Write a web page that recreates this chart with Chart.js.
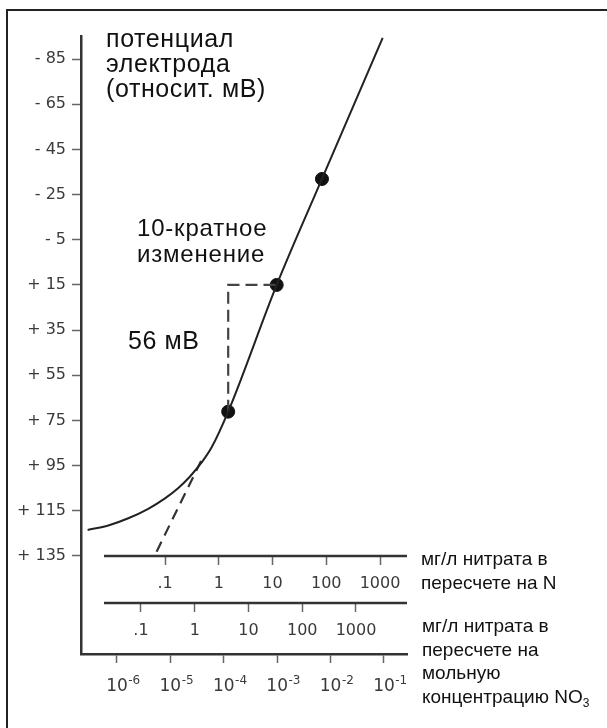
<!DOCTYPE html>
<html lang="ru">
<head>
<meta charset="utf-8">
<title>Потенциал нитратного электрода</title>
<script src="https://cdn.jsdelivr.net/npm/chart.js@4"></script>
<style>
    html, body { margin: 0; padding: 0; background: #fff; }
    #wrap { position: relative; width: 607px; height: 728px; overflow: hidden; }
    #frame { position: absolute; left: 6px; top: 9px; right: -4px; bottom: -4px;
             border-left: 2px solid #222; border-top: 2px solid #222; pointer-events: none; }
    .note { position: absolute; font-family: 'Liberation Sans', Arial, sans-serif; color: #111; white-space: nowrap; }
    .big { font-size: 25px; line-height: 25px; letter-spacing: 0.6px; }
    .mid { font-size: 24px; line-height: 26px; letter-spacing: 0.8px; }
    .small { font-size: 19px; line-height: 23.6px; }
    sub { font-size: 12px; vertical-align: -4px; line-height: 0; }
</style>
</head>
<body>
<div id="wrap">
    <canvas id="chart" width="607" height="728"></canvas>
    <div id="frame"></div>
    <div class="note big" style="left:106px; top:26px;">потенциал<br>электрода<br>(относит. мВ)</div>
    <div class="note mid" style="left:137px; top:215px;">10-кратное<br>изменение</div>
    <div class="note big" style="left:128px; top:328px;">56 мВ</div>
    <div class="note small" style="left:421px; top:547px;">мг/л нитрата в<br>пересчете на N</div>
    <div class="note small" style="left:422px; top:614px;">мг/л нитрата в<br>пересчете на<br>мольную<br>концентрацию NO<sub>3</sub></div>
</div>
<script>
// y axis: electrode potential, mV (top is negative)
const yTicks = [-85, -65, -45, -25, -5, 15, 35, 55, 75, 95, 115, 135];

// bottom axis: molar concentration of NO3, labelled 10^exp
const molarTicks = [1e-6, 1e-5, 1e-4, 1e-3, 1e-2, 1e-1];
const molarExponents = ['-6', '-5', '-4', '-3', '-2', '-1'];

// mg/l nitrate as N
const nTicks = [0.1, 1, 10, 100, 1000];
const nLabels = ['.1', '1', '10', '100', '1000'];

// mg/l nitrate as NO3
const no3Ticks = [0.1, 1, 10, 100, 1000];
const no3Labels = ['.1', '1', '10', '100', '1000'];

// electrode response curve
const curveX = [2.82e-7, 6.87e-7, 1.63e-6, 3.85e-6, 7.93e-6, 1.41e-5, 2.33e-5, 3.85e-5, 5.93e-5, 1.21e-4, 9.8e-4, 6.9e-3, 9.46e-2];
const curveY = [123.5, 121.5, 118.3, 114.1, 109.5, 104.9, 99.8, 93.6, 86.9, 71.1, 15, -31.9, -94.4];

// marked points
const dotX = [1.21e-4, 9.8e-4, 6.9e-3];
const dotY = [71.1, 15, -31.9];

// dashed extension of the linear part
const tangentX = [5.52e-6, 4.26e-5];
const tangentY = [133.1, 90.3];

// dashed 10-fold step
const stepX = [1.21e-4, 1.21e-4, 9.8e-4];
const stepY = [71.1, 15, 15];

// where the two extra concentration axes sit, in mV
const nAxisAt = 135;
const no3AxisAt = 156;

const axisColor = '#333';
const tickColor = '#666';
const labelColor = '#3a3a3a';
const tickFont = { family: "'DejaVu Sans', sans-serif", size: 16 };

const toPoints = (xs, ys) => xs.map((x, i) => ({ x: x, y: ys[i] }));
const setTicks = (values) => (scale) => { scale.ticks = values.map((v) => ({ value: v })); };

// the two extra axes have their lines drawn here so they start a little right of the y axis
const extraAxisLines = {
    id: 'extraAxisLines',
    afterDraw(chart) {
        const { ctx, chartArea, scales } = chart;
        ctx.save();
        ctx.strokeStyle = axisColor;
        ctx.lineWidth = 2.5;
        [nAxisAt, no3AxisAt].forEach((v) => {
            const py = Math.round(scales.y.getPixelForValue(v));
            ctx.beginPath();
            ctx.moveTo(chartArea.left + 23, py);
            ctx.lineTo(chartArea.right, py);
            ctx.stroke();
        });
        ctx.restore();
    }
};

// 10 with a raised exponent, centred on the tick like the original
const powerLabels = {
    id: 'powerLabels',
    afterDraw(chart) {
        const { ctx, chartArea, scales } = chart;
        const baseline = chartArea.bottom + 37;
        ctx.save();
        ctx.fillStyle = labelColor;
        ctx.textBaseline = 'alphabetic';
        molarTicks.forEach((v, i) => {
            const px = scales.x.getPixelForValue(v);
            ctx.font = "17px 'DejaVu Sans', sans-serif";
            const w = ctx.measureText('10').width;
            ctx.textAlign = 'center';
            ctx.fillText('10', px, baseline);
            ctx.font = "12px 'DejaVu Sans', sans-serif";
            ctx.textAlign = 'left';
            ctx.fillText(molarExponents[i], px + w / 2 + 0.5, baseline - 7);
        });
        ctx.restore();
    }
};

const ctx = document.getElementById('chart').getContext('2d');

new Chart(ctx, {
    type: 'scatter',
    data: {
        datasets: [
            {
                data: toPoints(curveX, curveY),
                showLine: true,
                borderColor: '#222',
                borderWidth: 2,
                pointRadius: 0,
                cubicInterpolationMode: 'monotone',
                xAxisID: 'x',
                yAxisID: 'y'
            },
            {
                data: toPoints(tangentX, tangentY),
                showLine: true,
                borderColor: '#333',
                borderWidth: 2.2,
                borderDash: [11, 7],
                pointRadius: 0,
                xAxisID: 'x',
                yAxisID: 'y'
            },
            {
                data: toPoints(stepX, stepY),
                showLine: true,
                borderColor: '#444',
                borderWidth: 2.2,
                borderDash: [12, 6],
                pointRadius: 0,
                xAxisID: 'x',
                yAxisID: 'y'
            },
            {
                data: toPoints(dotX, dotY),
                showLine: false,
                pointRadius: 6.5,
                pointBackgroundColor: '#111',
                pointBorderColor: '#111',
                xAxisID: 'x',
                yAxisID: 'y'
            }
        ]
    },
    options: {
        responsive: false,
        animation: false,
        devicePixelRatio: 1,
        layout: { padding: { top: 36, left: 7, right: 200, bottom: 0 } },
        plugins: {
            legend: { display: false },
            tooltip: { enabled: false }
        },
        scales: {
            y: {
                type: 'linear',
                position: 'left',
                reverse: true,
                min: -95.2,
                max: 178.4,
                afterBuildTicks: setTicks(yTicks),
                afterFit: (scale) => { scale.width = 74; },
                border: { display: true, color: axisColor, width: 2.5 },
                grid: { drawOnChartArea: false, tickLength: 9, tickColor: tickColor, tickWidth: 1.5 },
                ticks: {
                    padding: 6,
                    color: labelColor,
                    font: { family: "'DejaVu Sans', sans-serif", size: 16 },
                    callback: (v) => (v < 0 ? '- ' : '+ ') + Math.abs(v)
                }
            },
            x: {
                type: 'logarithmic',
                position: 'bottom',
                min: 2.12e-7,
                max: 0.27,
                afterBuildTicks: setTicks(molarTicks),
                afterFit: (scale) => { scale.height = 74; },
                border: { display: true, color: axisColor, width: 2.5 },
                grid: { drawOnChartArea: false, tickLength: 9, tickColor: tickColor, tickWidth: 1.5 },
                ticks: { display: false, autoSkip: false, maxRotation: 0 }
            },
            xN: {
                type: 'logarithmic',
                axis: 'x',
                position: { y: nAxisAt },
                min: 2.735e-3,
                max: 3177,
                afterBuildTicks: setTicks(nTicks),
                border: { display: false },
                grid: { drawOnChartArea: false, tickLength: 9, tickColor: tickColor, tickWidth: 1.5 },
                ticks: {
                    autoSkip: false,
                    maxRotation: 0,
                    padding: 9,
                    color: labelColor,
                    font: tickFont,
                    callback: (v, i) => nLabels[i]
                }
            },
            xNO3: {
                type: 'logarithmic',
                axis: 'x',
                position: { y: no3AxisAt },
                min: 7.66e-3,
                max: 8892,
                afterBuildTicks: setTicks(no3Ticks),
                border: { display: false },
                grid: { drawOnChartArea: false, tickLength: 9, tickColor: tickColor, tickWidth: 1.5 },
                ticks: {
                    autoSkip: false,
                    maxRotation: 0,
                    padding: 9,
                    color: labelColor,
                    font: tickFont,
                    callback: (v, i) => no3Labels[i]
                }
            }
        }
    },
    plugins: [extraAxisLines, powerLabels]
});
</script>
</body>
</html>
